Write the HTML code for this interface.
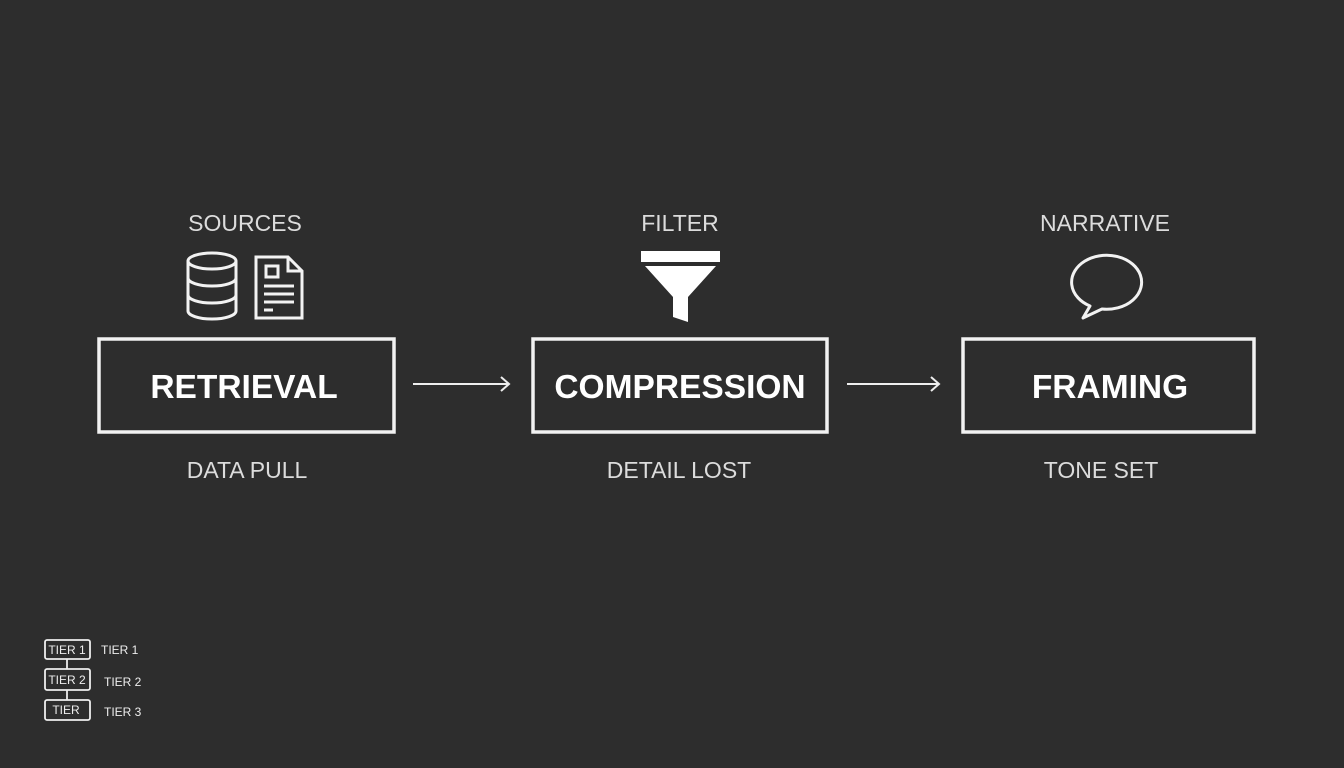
<!DOCTYPE html>
<html><head><meta charset="utf-8"><style>
html,body{margin:0;padding:0;background:#2d2d2d;}
svg{display:block}
text{font-family:"Liberation Sans",sans-serif}
</style></head><body>
<svg width="1344" height="768" viewBox="0 0 1344 768" xmlns="http://www.w3.org/2000/svg">
<rect width="1344" height="768" fill="#2d2d2d"/>
<g fill="#dcdcdc" font-size="23" text-anchor="middle">
<text x="245" y="231">SOURCES</text>
<text x="680" y="231">FILTER</text>
<text x="1105" y="231">NARRATIVE</text>
<text x="247" y="478">DATA PULL</text>
<text x="679" y="478">DETAIL LOST</text>
<text x="1101" y="478">TONE SET</text>
</g>
<g fill="none" stroke="#f2f2f2" stroke-width="3.5">
<rect x="99" y="339" width="295" height="93"/>
<rect x="533" y="339" width="294" height="93"/>
<rect x="963" y="339" width="291" height="93"/>
</g>
<g fill="#fff" font-size="33.5" font-weight="bold" text-anchor="middle">
<text x="244" y="398">RETRIEVAL</text>
<text x="680" y="398">COMPRESSION</text>
<text x="1110" y="398">FRAMING</text>
</g>
<g stroke="#eee" stroke-width="2" fill="none">
<line x1="413" y1="384" x2="509" y2="384"/><polyline points="501,377 509,384 501,391"/>
<line x1="847" y1="384" x2="939" y2="384"/><polyline points="931,377 939,384 931,391"/>
</g>
<g fill="none" stroke="#f2f2f2" stroke-width="3">
<ellipse cx="212" cy="261" rx="24" ry="8"/>
<path d="M188 261 V311 A24 8 0 0 0 236 311 V261"/>
<path d="M188 278 A24 8 0 0 0 236 278"/>
<path d="M188 295 A24 8 0 0 0 236 295"/>
<path d="M256 257 H288 L302 271 V318 H256 Z"/>
<path d="M288 257 V271 H302"/>
<rect x="266" y="266" width="12" height="11"/>
<line x1="264" y1="286" x2="294" y2="286"/>
<line x1="264" y1="294" x2="294" y2="294"/>
<line x1="264" y1="302" x2="294" y2="302"/>
<line x1="264" y1="310" x2="273" y2="310"/>
</g>
<g fill="#fff">
<rect x="641" y="251" width="79" height="11"/>
<polygon points="645,266 716,266 688,297 688,322 673,317 673,297"/>
</g>
<path d="M1090 306 A35 27 0 1 1 1102 309 L1083 318 Z" fill="none" stroke="#f2f2f2" stroke-width="3" stroke-linejoin="round"/>
<g fill="none" stroke="#eee" stroke-width="1.8">
<rect x="45" y="640" width="45" height="19" rx="2"/>
<rect x="45" y="669" width="45" height="21" rx="2"/>
<rect x="45" y="700" width="45" height="20" rx="2"/>
<line x1="67" y1="659" x2="67" y2="669"/>
<line x1="67" y1="690" x2="67" y2="700"/>
</g>
<g fill="#eee" font-size="12">
<text x="67" y="654" text-anchor="middle">TIER 1</text>
<text x="67" y="684" text-anchor="middle">TIER 2</text>
<text x="66" y="714" text-anchor="middle">TIER</text>
<text x="101" y="654">TIER 1</text>
<text x="104" y="686">TIER 2</text>
<text x="104" y="716">TIER 3</text>
</g>
</svg>
</body></html>
